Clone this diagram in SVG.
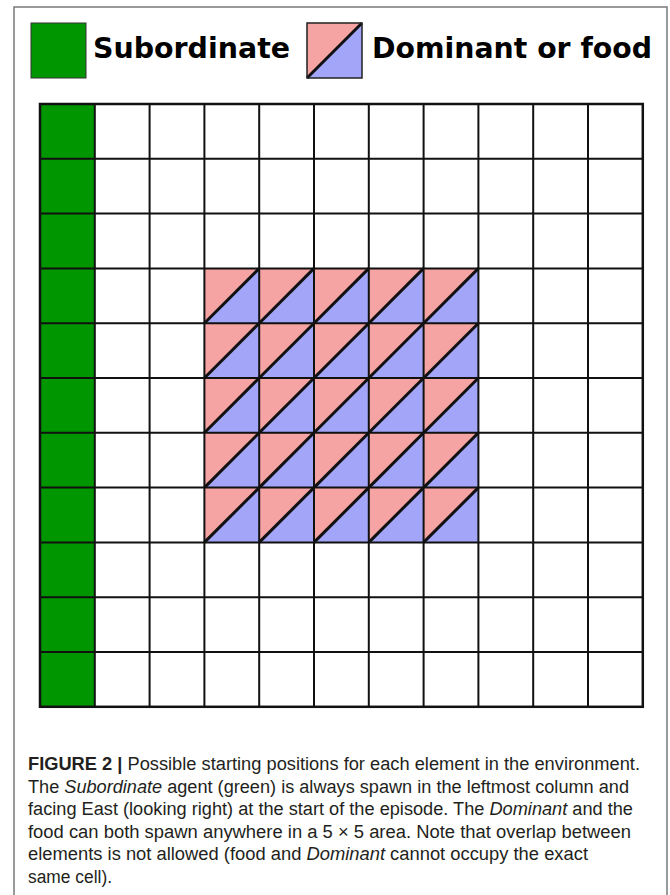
<svg xmlns="http://www.w3.org/2000/svg" xmlns:xlink="http://www.w3.org/1999/xlink" width="670" height="895" viewBox="0 0 670 895">
  <style>
    .legend { font-family: "DejaVu Sans", sans-serif; font-weight: bold; font-size: 28px; fill: #000; }
    .cap { font-family: "Liberation Sans", Arial, sans-serif; font-size: 18px; fill: #231f20; }
    .capb { font-weight: bold; }
    .it { font-style: italic; }
    .green { fill: #009600; }
    .white { fill: #ffffff; }
    .pink { fill: #f5a3a3; }
    .blue { fill: #a2a5f8; }
    .grid { fill: none; stroke: #111; stroke-width: 2; }
    .diag { stroke: #111; stroke-width: 3; }
  </style>
  <defs>
    <g id="split">
      <rect class="pink" x="0" y="0" width="54.8" height="54.8"/>
      <path class="blue" d="M0,54.8 L54.8,0 L54.8,54.8 Z"/>
      <line class="diag" x1="0" y1="54.8" x2="54.8" y2="0"/>
    </g>
  </defs>
  <rect x="0" y="0" width="670" height="895" fill="#ffffff"/>
  <path d="M14,900 V7 H667 V900" fill="none" stroke="#7a7a7a" stroke-width="1.5"/>

  <g id="legend-subordinate">
    <rect class="green" x="31" y="23" width="55" height="55" stroke="#333" stroke-width="1"/>
    <text class="legend" x="93" y="58" textLength="197" lengthAdjust="spacingAndGlyphs">Subordinate</text>
  </g>
  <g id="legend-dominant">
    <rect class="pink" x="307" y="23" width="55" height="55"/>
    <path class="blue" d="M307,78 L362,23 L362,78 Z"/>
    <line class="diag" x1="307" y1="78" x2="362" y2="23"/>
    <rect x="307" y="23" width="55" height="55" fill="none" stroke="#222" stroke-width="1.5"/>
    <text class="legend" x="372" y="58" textLength="280" lengthAdjust="spacingAndGlyphs">Dominant or food</text>
  </g>

  <g id="grid-cells">
    <rect class="white" x="40" y="104" width="602.8" height="602.8"/>
    <rect class="green" x="40" y="104" width="54.8" height="602.8"/>
  </g>
  <g id="spawn-area">
    <use xlink:href="#split" x="204.4" y="268.4"/>
    <use xlink:href="#split" x="259.2" y="268.4"/>
    <use xlink:href="#split" x="314" y="268.4"/>
    <use xlink:href="#split" x="368.8" y="268.4"/>
    <use xlink:href="#split" x="423.6" y="268.4"/>
    <use xlink:href="#split" x="204.4" y="323.2"/>
    <use xlink:href="#split" x="259.2" y="323.2"/>
    <use xlink:href="#split" x="314" y="323.2"/>
    <use xlink:href="#split" x="368.8" y="323.2"/>
    <use xlink:href="#split" x="423.6" y="323.2"/>
    <use xlink:href="#split" x="204.4" y="378"/>
    <use xlink:href="#split" x="259.2" y="378"/>
    <use xlink:href="#split" x="314" y="378"/>
    <use xlink:href="#split" x="368.8" y="378"/>
    <use xlink:href="#split" x="423.6" y="378"/>
    <use xlink:href="#split" x="204.4" y="432.8"/>
    <use xlink:href="#split" x="259.2" y="432.8"/>
    <use xlink:href="#split" x="314" y="432.8"/>
    <use xlink:href="#split" x="368.8" y="432.8"/>
    <use xlink:href="#split" x="423.6" y="432.8"/>
    <use xlink:href="#split" x="204.4" y="487.6"/>
    <use xlink:href="#split" x="259.2" y="487.6"/>
    <use xlink:href="#split" x="314" y="487.6"/>
    <use xlink:href="#split" x="368.8" y="487.6"/>
    <use xlink:href="#split" x="423.6" y="487.6"/>
  </g>
  <g id="grid-lines">
    <path class="grid" d="M94.8,104 V706.8 M149.6,104 V706.8 M204.4,104 V706.8 M259.2,104 V706.8 M314,104 V706.8 M368.8,104 V706.8 M423.6,104 V706.8 M478.4,104 V706.8 M533.2,104 V706.8 M588,104 V706.8
      M40,158.8 H642.8 M40,213.6 H642.8 M40,268.4 H642.8 M40,323.2 H642.8 M40,378 H642.8 M40,432.8 H642.8 M40,487.6 H642.8 M40,542.4 H642.8 M40,597.2 H642.8 M40,652 H642.8"/>
    <rect x="40" y="104" width="602.8" height="602.8" fill="none" stroke="#111" stroke-width="2.5"/>
  </g>

  <g id="caption">
    <text class="cap" x="28" y="770" textLength="612" lengthAdjust="spacingAndGlyphs"><tspan class="capb">FIGURE 2 |</tspan> Possible starting positions for each element in the environment.</text>
    <text class="cap" x="28" y="792.5" textLength="601" lengthAdjust="spacingAndGlyphs">The <tspan class="it">Subordinate</tspan> agent (green) is always spawn in the leftmost column and</text>
    <text class="cap" x="28" y="815" textLength="605" lengthAdjust="spacingAndGlyphs">facing East (looking right) at the start of the episode. The <tspan class="it">Dominant</tspan> and the</text>
    <text class="cap" x="28" y="837.5" textLength="603" lengthAdjust="spacingAndGlyphs">food can both spawn anywhere in a 5 × 5 area. Note that overlap between</text>
    <text class="cap" x="28" y="860" textLength="560" lengthAdjust="spacingAndGlyphs">elements is not allowed (food and <tspan class="it">Dominant</tspan> cannot occupy the exact</text>
    <text class="cap" x="28" y="882.5" textLength="84" lengthAdjust="spacingAndGlyphs">same cell).</text>
  </g>
</svg>
